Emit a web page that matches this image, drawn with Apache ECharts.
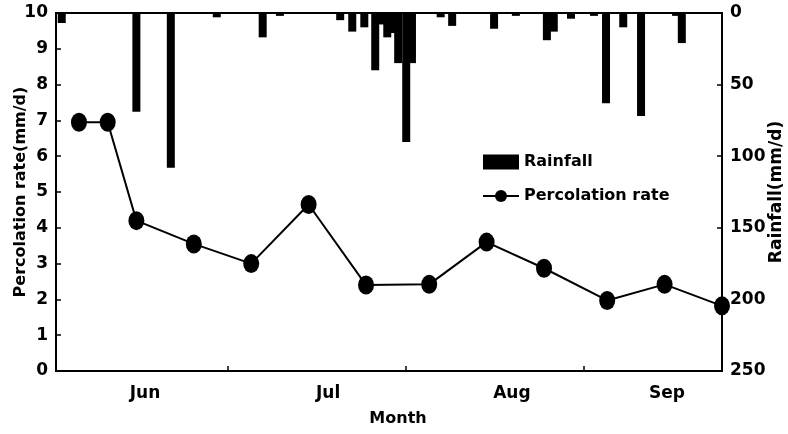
<!DOCTYPE html>
<html>
<head>
<meta charset="utf-8">
<script src="https://cdn.jsdelivr.net/npm/echarts@6/dist/echarts.min.js"></script>
<style>
  html, body { margin: 0; padding: 0; background: #fff; }
  #chart { width: 788px; height: 434px; }
</style>
</head>
<body>
<div id="chart"></div>
<script>
// Days counted from 1 June
const rainDays = [1, 14, 20, 28, 36, 39, 49.5, 51.6, 53.7, 55.6, 56.6, 57.7, 58.7, 59.6, 61, 62, 67, 69, 76.3, 80.1, 85.5, 86.7, 89.7, 93.7, 95.8, 98.8, 101.9, 108, 109];
const rainfall = [7, 69, 108, 3, 17, 2, 5, 13, 10, 40, 8, 17, 14, 35, 90, 35, 3, 9, 11, 2, 19, 13, 4, 2, 63, 10, 72, 2, 21];
const percDays = [4, 9, 14, 24, 34, 44, 54, 65, 75, 85, 96, 106, 116];
const percolation = [6.95, 6.95, 4.2, 3.55, 3.0, 4.65, 2.4, 2.42, 3.6, 2.87, 1.97, 2.42, 1.82];
const monthTickDays = [30, 61, 92];
const monthLabelDays = [15.5, 47.4, 79.4, 106.4];
const monthLabels = ['Jun', 'Jul', 'Aug', 'Sep'];

const FONT = 'DejaVu Sans';
const chart = echarts.init(document.getElementById('chart'));
chart.setOption({
  animation: false,
  backgroundColor: '#fff',
  textStyle: { fontFamily: FONT, color: '#000', fontWeight: 'bold' },
  grid: { left: 56, right: 66, top: 13, bottom: 63, outerBoundsMode: 'none', containLabel: false,
          show: true, borderColor: '#000', borderWidth: 2 },
  legend: {
    orient: 'vertical', left: 477, top: 149, itemWidth: 36, itemHeight: 15, itemGap: 18,
    textStyle: { fontFamily: FONT, fontWeight: 'bold', fontSize: 16, color: '#000', lineHeight: 15 },
    data: [{ name: 'Rainfall', icon: 'rect' }, { name: 'Percolation rate' }]
  },
  xAxis: {
    type: 'value', min: 0, max: 116,
    name: 'Month', nameLocation: 'middle', nameGap: 40, nameMoveOverlap: false,
    nameTextStyle: { fontFamily: FONT, fontWeight: 'bold', fontSize: 16, color: '#000', padding: [0, 0, 0, 18] },
    axisLine: { show: true, lineStyle: { color: '#000', width: 2 } },
    axisTick: { show: true, inside: true, length: 5, customValues: monthTickDays, lineStyle: { color: '#000', width: 1.5 } },
    axisLabel: {
      customValues: monthLabelDays, margin: 14,
      fontFamily: FONT, fontWeight: 'bold', fontSize: 17, color: '#000',
      formatter: v => monthLabels[monthLabelDays.indexOf(v)]
    },
    splitLine: { show: false }
  },
  yAxis: [
    {
      type: 'value', min: 0, max: 10, interval: 1, position: 'left',
      name: 'Percolation rate(mm/d)', nameLocation: 'middle', nameGap: 27, nameRotate: 90, nameMoveOverlap: false,
      nameTextStyle: { fontFamily: FONT, fontWeight: 'bold', fontSize: 16, color: '#000' },
      axisLine: { show: true, lineStyle: { color: '#000', width: 2 } },
      axisTick: { show: true, inside: true, length: 5, lineStyle: { color: '#000', width: 1.5 } },
      axisLabel: { margin: 8, fontFamily: FONT, fontWeight: 'bold', fontSize: 17, color: '#000' },
      splitLine: { show: false }
    },
    {
      type: 'value', min: 0, max: 250, interval: 50, position: 'right', inverse: true,
      name: 'Rainfall(mm/d)', nameLocation: 'middle', nameGap: 46, nameRotate: 90, nameMoveOverlap: false,
      nameTextStyle: { fontFamily: FONT, fontWeight: 'bold', fontSize: 17, color: '#000' },
      axisLine: { show: true, lineStyle: { color: '#000', width: 2 } },
      axisTick: { show: true, inside: true, length: 5, lineStyle: { color: '#000', width: 1.5 } },
      axisLabel: { margin: 8, fontFamily: FONT, fontWeight: 'bold', fontSize: 17, color: '#000' },
      splitLine: { show: false }
    }
  ],
  series: [
    {
      name: 'Rainfall', type: 'bar', yAxisIndex: 1, barWidth: 8,
      itemStyle: { color: '#000' },
      data: rainDays.map((d, i) => [d, rainfall[i]])
    },
    {
      name: 'Percolation rate', type: 'line', yAxisIndex: 0, clip: false,
      symbol: 'circle', symbolSize: [16, 19],
      lineStyle: { color: '#000', width: 2 },
      itemStyle: { color: '#000' },
      data: percDays.map((d, i) => [d, percolation[i]])
    }
  ]
});
</script>
</body>
</html>
